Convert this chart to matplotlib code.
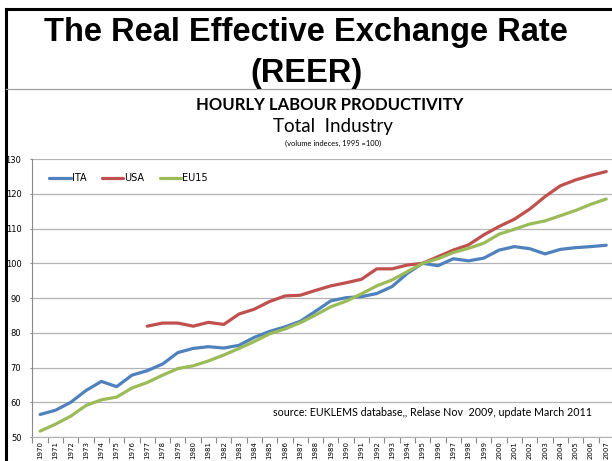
import matplotlib
matplotlib.use("Agg")
import matplotlib.pyplot as plt
from matplotlib.lines import Line2D
from matplotlib.ticker import FixedLocator

years = list(range(1970, 2008))

ita = [56.5, 57.7, 60.0, 63.4, 66.0, 64.5, 67.8, 69.1, 71.0, 74.3,
       75.5, 76.0, 75.6, 76.4, 78.7, 80.4, 81.7, 83.3, 86.2, 89.2,
       90.1, 90.4, 91.3, 93.3, 97.1, 100.0, 99.3, 101.3, 100.7, 101.5,
       103.8, 104.8, 104.2, 102.7, 104.0, 104.5, 104.8, 105.2]
usa = [None] * 7 + [
       81.9, 82.8, 82.8, 81.9, 83.0, 82.4, 85.4, 86.8, 89.0, 90.6,
       90.8, 92.2, 93.5, 94.4, 95.4, 98.4, 98.4, 99.5, 100.0, 101.9,
       103.8, 105.3, 108.2, 110.6, 112.7, 115.6, 119.2, 122.3, 124.0, 125.3,
       126.4]
eu15 = [51.7, 53.7, 56.0, 59.1, 60.7, 61.5, 64.1, 65.7, 67.8, 69.7,
        70.5, 71.9, 73.6, 75.5, 77.5, 79.7, 81.1, 82.9, 85.1, 87.5,
        89.1, 91.2, 93.5, 95.2, 97.6, 100.0, 101.3, 103.1, 104.3, 105.8,
        108.4, 109.8, 111.3, 112.2, 113.7, 115.2, 117.0, 118.5]

series = [("ITA", ita, "#4f81bd"), ("USA", usa, "#c0504d"), ("EU15", eu15, "#9bbb59")]

fig = plt.figure(figsize=(6.12, 4.61), dpi=100)

# slide frame
fig.add_artist(Line2D([0.009, 1.0], [0.981, 0.981], color="black", lw=2.2))
fig.add_artist(Line2D([0.0105, 0.0105], [0.0, 0.981], color="black", lw=2.2))
fig.add_artist(Line2D([0.009, 1.0], [0.807, 0.807], color="#a0a0a0", lw=0.9))

fig.text(0.5, 0.929, "The Real Effective Exchange Rate", ha="center", va="center",
         fontsize=23.5, fontweight="bold", family="Liberation Sans")
fig.text(0.5, 0.841, "(REER)", ha="center", va="center",
         fontsize=23.5, fontweight="bold", family="Liberation Sans")

fig.text(0.539, 0.772, "HOURLY LABOUR PRODUCTIVITY", ha="center", va="center",
         fontsize=12, fontweight="bold", family="Lato")
fig.text(0.544, 0.725, "Total  Industry", ha="center", va="center",
         fontsize=13.5, family="Lato")
fig.text(0.544, 0.690, "(volume indeces, 1995 =100)", ha="center", va="center",
         fontsize=5.4, family="Lato")

ax = fig.add_axes([0.0531, 0.052, 0.950, 0.603])
x = list(range(len(years)))
for name, vals, col in series:
    ax.plot(x, [v if v is not None else float("nan") for v in vals],
            color=col, lw=2.3, label=name, solid_capstyle="round")

ax.set_xlim(-0.5, len(years) - 0.5)
ax.set_ylim(50, 130)
ax.set_yticks(range(50, 131, 10))
ax.set_xticks(x)
ax.set_xticklabels([str(y) for y in years], rotation=90, fontsize=5, family="DejaVu Sans")
ax.xaxis.set_minor_locator(FixedLocator([i - 0.5 for i in range(len(years) + 1)]))
ax.tick_params(axis="x", which="major", length=0, pad=3)
ax.tick_params(axis="x", which="minor", length=4, color="#888888", width=0.8)
ax.tick_params(axis="y", length=1.5, color="#888888", labelsize=6, pad=6.5)
ax.grid(axis="y", color="#b3b3b3", lw=0.9)
ax.set_axisbelow(True)
for s in ["top", "right"]:
    ax.spines[s].set_visible(False)
ax.spines["left"].set_color("#888888")
ax.spines["bottom"].set_color("#b3b3b3")

ax.legend(loc="upper left", bbox_to_anchor=(0.014, 0.98), ncol=3, frameon=False,
          fontsize=7, handlelength=2.2, handletextpad=0.1, columnspacing=1.6)

ax.text(0.962, 0.088, "source: EUKLEMS database,, Relase Nov  2009, update March 2011",
        transform=ax.transAxes, ha="right", va="center", fontsize=7.7, family="Lato")

fig.savefig("out.png", dpi=100)
